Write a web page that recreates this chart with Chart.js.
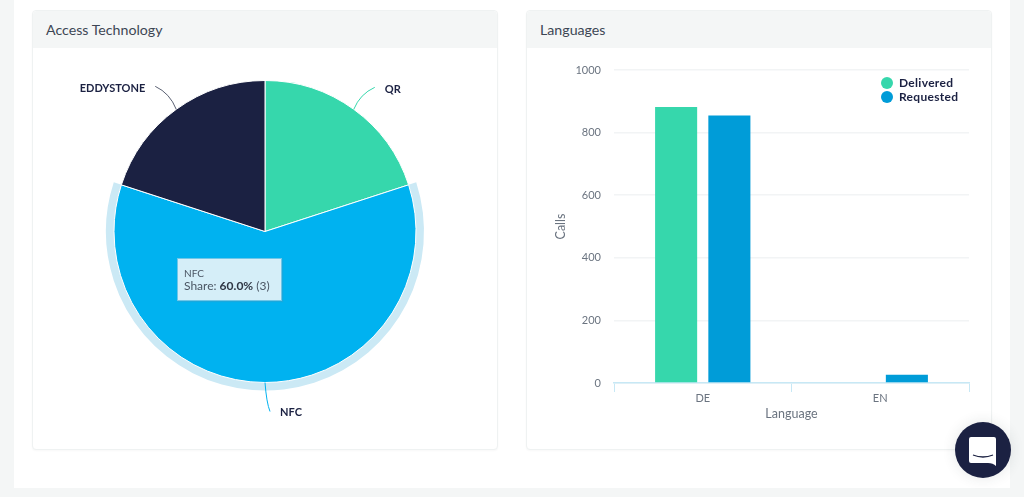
<!DOCTYPE html>
<html lang="en">
<head>
<meta charset="UTF-8">
<title>Access Technology / Languages</title>
<script src="https://cdn.jsdelivr.net/npm/chart.js"></script>
<style>
    * { margin: 0; padding: 0; box-sizing: border-box; font-family: Lato, sans-serif; }
    html, body { width: 1024px; height: 497px; overflow: hidden; background: #f4f6f6; }
    #main { position: absolute; left: 14px; top: 0; width: 996px; height: 488px; background: #fff; }
    .card { position: absolute; top: 10px; width: 466px; height: 440px; background: #fff;
            border: 1px solid #eff2f2; border-radius: 4px; box-shadow: 0 1px 2px rgba(0,0,0,0.03); }
    .card h2 { height: 37px; line-height: 37px; padding-left: 13px; background: #f4f6f6;
               font-size: 14.2px; font-weight: 400; color: #3d4654; border-radius: 4px 4px 0 0; }
    #cardPie { left: 32px; }
    #cardBar { left: 526px; }
    .wrap { position: absolute; left: 0; top: 37px; width: 464px; height: 401px; }
    #tip { position: absolute; left: 177px; top: 258px; width: 105px; height: 43px; background: #d5eef8;
           border: 1px solid #6fc6e8; box-shadow: 1px 1px 1px #1aa8dd; padding: 8px 0 0 6px;
           color: #4a5563; font-size: 12px; line-height: 14px; white-space: nowrap; }
    #tip .t { font-size: 10px; line-height: 12px; display: block; }
    #tip b { color: #2f3644; }
    #legend { position: absolute; left: 881px; top: 76px; font-size: 12px; font-weight: 700; color: #1b2142; letter-spacing: 0.3px; }
    #legend div { height: 14px; line-height: 14px; position: relative; padding-left: 18px; white-space: nowrap; }
    #legend i { position: absolute; left: 0; top: 1px; width: 12px; height: 12px; border-radius: 50%; }
    #chat { position: absolute; left: 955px; top: 422px; width: 56px; height: 56px; border-radius: 50%;
            background: #1b2142; box-shadow: 0 0 14px rgba(40,60,60,0.12); }
</style>
</head>
<body>
<div id="main"></div>
<div class="card" id="cardPie"><h2>Access Technology</h2><div class="wrap"><canvas id="pieChart"></canvas></div></div>
<div class="card" id="cardBar"><h2>Languages</h2><div class="wrap"><canvas id="barChart"></canvas></div></div>
<div id="tip"></div>
<div id="legend"></div>
<div id="chat">
    <svg width="56" height="56" viewBox="0 0 56 56">
        <path d="M16 15 Q14 15 14 17 V39 Q14 41 16 41 H33 Q38 41 41 44 V17 Q41 15 39 15 Z" fill="#fff"/>
        <path d="M18 33 Q28 37 38 33" fill="none" stroke="#1b2142" stroke-width="1.3"/>
    </svg>
</div>
<script>
    const techLabels = ['QR', 'NFC', 'EDDYSTONE'];
    const techValues = [1, 3, 1];
    const techColors = ['#36d7ac', '#00b2f0', '#1b2142'];

    const languages = ['DE', 'EN'];
    const delivered = [882, 0];
    const requested = [855, 26];
    const yTicks = [0, 200, 400, 600, 800, 1000];

    // where each callout ends, relative to the slice edge
    const calloutEnds = [[21, -22], [5, 29], [-21, -23]];
    const labelFont = 'bold 11px Lato, sans-serif';

    const pieExtras = {
        id: 'pieExtras',
        beforeDatasetsDraw(chart) {
            // halo round the hovered NFC slice
            const arc = chart.getDatasetMeta(0).data[1];
            const ctx = chart.ctx;
            ctx.save();
            ctx.beginPath();
            ctx.arc(arc.x, arc.y, arc.outerRadius + 8, arc.startAngle, arc.endAngle);
            ctx.lineTo(arc.x, arc.y);
            ctx.closePath();
            ctx.fillStyle = '#cbe9f5';
            ctx.fill();
            ctx.restore();
        },
        afterDatasetsDraw(chart) {
            const ctx = chart.ctx;
            ctx.save();
            chart.getDatasetMeta(0).data.forEach((arc, i) => {
                const mid = (arc.startAngle + arc.endAngle) / 2;
                const x0 = arc.x + Math.cos(mid) * arc.outerRadius;
                const y0 = arc.y + Math.sin(mid) * arc.outerRadius;
                const x1 = x0 + calloutEnds[i][0];
                const y1 = y0 + calloutEnds[i][1];
                ctx.beginPath();
                ctx.moveTo(x0, y0);
                ctx.quadraticCurveTo(x0 + (x1 - x0) * 0.3, y1 - (y1 - y0) * 0.3, x1, y1);
                ctx.strokeStyle = i === 2 ? '#5a6072' : techColors[i];
                ctx.lineWidth = 1;
                ctx.stroke();
                ctx.font = labelFont;
                ctx.fillStyle = '#1b2142';
                ctx.textBaseline = 'middle';
                ctx.textAlign = x1 < arc.x ? 'right' : 'left';
                const gap = x1 < arc.x ? -10 : 10;
                ctx.fillText(techLabels[i], x1 + gap, y1 + (i === 1 ? 1 : 2));
            });
            ctx.restore();
        }
    };

    new Chart(document.getElementById('pieChart'), {
        type: 'pie',
        data: {
            labels: techLabels,
            datasets: [{
                data: techValues,
                backgroundColor: techColors,
                borderColor: '#fff',
                borderWidth: 1
            }]
        },
        options: {
            responsive: true,
            maintainAspectRatio: false,
            animation: false,
            layout: { padding: { top: 32, bottom: 66 } },
            plugins: { legend: { display: false }, tooltip: { enabled: false } }
        },
        plugins: [pieExtras]
    });

    new Chart(document.getElementById('barChart'), {
        type: 'bar',
        data: {
            labels: languages,
            datasets: [
                { label: 'Delivered', data: delivered, backgroundColor: '#36d7ac' },
                { label: 'Requested', data: requested, backgroundColor: '#009cd8' }
            ]
        },
        options: {
            responsive: true,
            maintainAspectRatio: false,
            animation: false,
            categoryPercentage: 0.6,
            barPercentage: 0.79,
            layout: { padding: { left: 26, right: 22, top: 22, bottom: 28 } },
            scales: {
                x: {
                    afterFit(scale) { scale.height = 38; },
                    title: { display: true, text: 'Language', color: '#6b7480', font: { size: 12.5, family: 'Lato' }, padding: 0 },
                    border: { color: '#c7e8f5', width: 1.5 },
                    grid: { drawOnChartArea: false, color: '#c7e8f5', tickLength: 9 },
                    ticks: { color: '#6b7480', font: { size: 11, family: 'Lato' }, padding: 0, maxRotation: 0 }
                },
                y: {
                    min: 0,
                    max: 1000,
                    afterFit(scale) { scale.width = 61; },
                    afterBuildTicks(scale) { scale.ticks = yTicks.map(v => ({ value: v })); },
                    title: { display: true, text: 'Calls', color: '#6b7480', font: { size: 12.5, family: 'Lato' }, padding: 0 },
                    border: { display: false },
                    grid: { color: '#f2f4f5', lineWidth: 1.5, drawTicks: false },
                    ticks: { color: '#6b7480', font: { size: 11, family: 'Lato' }, padding: 13, callback: v => String(v) }
                }
            },
            plugins: { legend: { display: false }, tooltip: { enabled: false } }
        }
    });

    // tooltip of the hovered slice
    const total = techValues.reduce((a, b) => a + b, 0);
    const share = (techValues[1] / total * 100).toFixed(1);
    document.getElementById('tip').innerHTML =
        '<span class="t">' + techLabels[1] + '</span>Share: <b>' + share + '%</b> (' + techValues[1] + ')';

    document.getElementById('legend').innerHTML =
        '<div><i style="background:#36d7ac"></i>Delivered</div>' +
        '<div><i style="background:#009cd8"></i>Requested</div>';
</script>
</body>
</html>
